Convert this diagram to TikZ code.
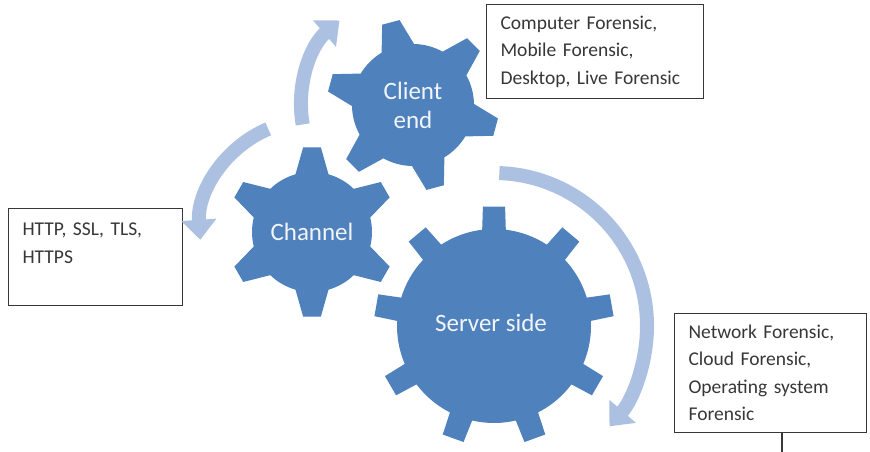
\documentclass[tikz,border=0pt]{standalone}
\usepackage{fontspec}
\setmainfont{Carlito}
\usetikzlibrary{arrows.meta,calc}
\definecolor{gearblue}{RGB}{79,129,189}
\definecolor{arrowblue}{RGB}{172,193,226}
\definecolor{boxgray}{RGB}{55,55,55}
% center, teeth, inner r, outer r, first tooth angle, half base angle, half tip angle
\newcommand{\cog}[7]{%
  \fill[gearblue, shift={(#1)}] ({#5-#6}:#3)
    \foreach \k in {1,...,#2}{
      -- ({#5+(\k-1)*360/#2-#7}:#4) -- ({#5+(\k-1)*360/#2+#7}:#4) -- ({#5+(\k-1)*360/#2+#6}:#3)
      arc[start angle={#5+(\k-1)*360/#2+#6}, end angle={#5+\k*360/#2-#6}, radius=#3pt]
    } -- cycle;}

\begin{document}
\begin{tikzpicture}[x=1pt,y=1pt]
        \tikzstyle{gearlabel} = [text=white!92!gearblue, font=\fontsize{25}{29}\selectfont, align=center]
        \tikzstyle{infobox} = [rectangle, draw=boxgray, line width=1.1pt, text=boxgray, font=\fontsize{19.5}{27.5}\selectfont, align=left, inner xsep=14pt, anchor=north west]
        \tikzstyle{turn} = [arrowblue, line width=14pt, -{Triangle[width=34pt,length=20pt]}]

                \useasboundingbox (0,0) rectangle (870,452);

                \coordinate (clientc) at (413,347);
                \coordinate (channelc) at (312,220);
                \coordinate (serverc) at (494,126);

                \cog{clientc}{6}{61}{86}{105}{16}{6}
                \cog{channelc}{6}{60}{85}{90}{16}{6}
                \cog{serverc}{9}{97}{120}{90}{7}{5.3}

                \node (client) [gearlabel] at (clientc) {Client\\end};
                \node (channel) [gearlabel] at (channelc) {Channel};
                \node (server) [gearlabel, xshift=-3pt, yshift=3pt] at (serverc) {Server side};

                \node (devbox) [infobox, text width=189pt, minimum height=94pt] at (486,448) {Computer Forensic,\\Mobile Forensic,\\Desktop, Live Forensic};
                \node (protobox) [infobox, text width=146pt, minimum height=97pt] at (8,244) {HTTP, SSL, TLS,\\HTTPS\\~};
                \node (netbox) [infobox, text width=164pt, minimum height=119pt] at (674,139) {Network Forensic,\\Cloud Forensic,\\Operating system\\Forensic};

                \draw[turn] ($(clientc)+(190:112)$) arc[start angle=190, end angle=131, radius=112pt];
                \draw[turn] ($(channelc)+(113:112)$) arc[start angle=113, end angle=184, radius=112pt];
                \draw[turn] ($(serverc)+(88:153)$) arc[start angle=88, end angle=-41, radius=153pt];

                \coordinate (tail) at (782,0);
                \draw[boxgray, line width=1.1pt] (netbox.south -| tail) -- (tail);
\end{tikzpicture}
\end{document}
